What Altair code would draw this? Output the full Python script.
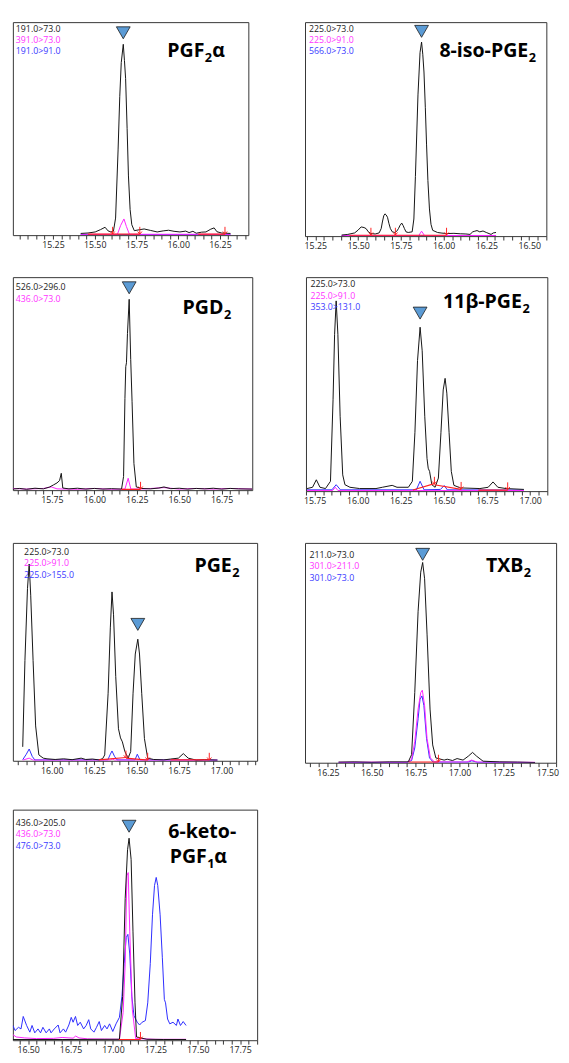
import math
import altair as alt
import pandas as pd

FONT = "Open Sans"
BLACK = "#111111"
MAGENTA = "#ff22ff"
BLUE = "#2a2aff"
RED = "#ff2020"
TRI_FILL = "#5b9bd5"
LEGEND_COLORS = ["#222222", "#ff33ff", "#3a3aff"]
ARROW = "M0,-1L0,1M-0.6,0.3L0,1L0.6,0.3"

# ---------------- data: (retention time [min], relative intensity [%]) ----------------
# Panel 1  PGF2a
P1_BLACK = [(15.416,0.8),(15.46,1.0),(15.503,1.5),(15.535,2.6),(15.562,3.7),(15.58,2.0),(15.597,1.5),(15.612,1.8),
            (15.625,8),(15.640,40),(15.650,65),(15.659,81),(15.671,89.6),(15.678,82),(15.685,73.6),(15.694,50),
            (15.702,27.8),(15.712,12),(15.722,4.9),(15.737,2.1),(15.765,2.5),(15.796,2.9),(15.835,2.2),(15.874,1.5),
            (15.91,2.0),(15.942,2.3),(15.975,1.8),(16.010,1.5),(16.045,1.9),(16.065,1.2),(16.088,1.8),(16.108,0.9),
            (16.14,1.4),(16.166,1.5),(16.195,2.8),(16.215,3.4),(16.232,1.6),(16.26,1.0),(16.313,0.8)]
P1_MAGENTA = [(15.416,0.4),(15.636,0.4),(15.655,4.5),(15.675,7.6),(15.69,4),(15.708,0.4),(16.313,0.4)]
P1_BLUE = [(15.416,0.25),(16.313,0.25)]
P1_RED = [[(15.46,0.5),(15.607,0.5)],[(15.607,0.5),(15.77,0.5)],[(16.12,0.5),(16.28,0.5)]]
P1_ARROWS = [(15.607,2.2),(15.77,2.2),(16.28,2.2)]
P1_PEAK = (15.671,95)
P1_LEGEND = ["191.0>73.0","391.0>73.0","191.0>91.0"]

# Panel 2  8-iso-PGE2
P2_BLACK = [(15.404,0.5),(15.44,0.8),(15.48,1.5),(15.50,2.8),(15.518,4.3),(15.535,4.0),(15.547,3.5),(15.56,2.0),
            (15.575,1.2),(15.60,1.0),(15.623,1.5),(15.635,3.5),(15.642,6.6),(15.65,9.5),(15.657,10.4),(15.664,9.9),
            (15.672,8.8),(15.68,6.0),(15.689,3.5),(15.70,2.0),(15.714,1.7),(15.725,2.2),(15.736,3.5),(15.745,5.0),
            (15.755,6.1),(15.763,5.0),(15.771,3.5),(15.78,2.0),(15.793,1.7),(15.816,2.0),(15.826,8.0),(15.835,27.9),
            (15.850,66),(15.862,85.8),(15.871,90.7),(15.878,85),(15.885,76.7),(15.893,60),(15.900,43),(15.908,26),
            (15.917,12.7),(15.926,5.5),(15.936,2.7),(15.964,1.7),(15.99,1.4),(16.021,1.2),(16.06,1.3),(16.097,1.1),
            (16.13,1.0),(16.154,0.8),(16.17,2.0),(16.182,2.3),(16.195,2.6),(16.211,2.0),(16.23,2.4),(16.249,1.7),
            (16.277,0.8),(16.29,1.5),(16.306,1.7)]
P2_MAGENTA = [(15.404,0.3),(15.855,0.3),(15.871,2.3),(15.888,0.3),(16.306,0.3)]
P2_BLUE = [(15.404,0.2),(16.306,0.2)]
P2_RED = [[(15.45,0.4),(15.575,0.4)],[(15.575,0.4),(15.718,0.4)],[(15.718,0.4),(16.017,0.4)]]
P2_ARROWS = [(15.575,2.2),(15.718,2.2),(16.017,2.2)]
P2_PEAK = (15.871,95.7)
P2_LEGEND = ["225.0>73.0","225.0>91.0","566.0>73.0"]

# Panel 3  PGD2
P3_BLACK = [(15.52,0.5),(15.56,0.8),(15.60,0.4),(15.65,0.9),(15.70,0.6),(15.737,1.5),(15.76,2.5),(15.78,3.4),
            (15.795,4.5),(15.805,7.9),(15.814,1.0),(15.85,0.6),(15.90,0.9),(15.95,0.5),(16.00,0.8),(16.05,0.5),
            (16.10,0.7),(16.16,0.5),(16.172,6.4),(16.18,43),(16.185,58),(16.189,59.8),(16.195,73.6),(16.205,89.6),
            (16.214,61.4),(16.222,41.5),(16.233,12.5),(16.247,1.5),(16.28,0.8),(16.33,0.6),(16.38,1.0),(16.41,1.5),
            (16.45,0.7),(16.50,0.9),(16.55,0.5),(16.60,0.8),(16.65,0.6),(16.70,0.9),(16.75,0.5),(16.80,0.8),
            (16.85,0.6),(16.93,0.5)]
P3_MAGENTA = [(15.52,0.8),(15.60,0.5),(15.70,0.8),(15.747,1.5),(15.78,0.6),(15.90,0.4),(16.00,0.8),(16.10,0.4),
              (16.18,0.5),(16.199,5.6),(16.215,0.5),(16.30,0.6),(16.41,1.2),(16.50,0.5),(16.60,0.8),(16.70,0.5),
              (16.80,0.8),(16.93,0.5)]
P3_RED = [[(16.16,0.4),(16.272,0.4)]]
P3_ARROWS = [(16.272,2.2)]
P3_PEAK = (16.205,95)
P3_LEGEND = ["526.0>296.0","436.0>73.0"]

# Panel 4  11b-PGE2
P4_BLACK = [(15.706,1.2),(15.738,1.8),(15.76,5.3),(15.781,1.8),(15.813,1.2),(15.842,4.6),(15.857,42.7),(15.866,73.3),
            (15.875,88.9),(15.885,73.3),(15.898,35),(15.913,7.6),(15.926,3),(15.955,1.8),(16.011,1.2),(16.106,1.2),
            (16.143,1.8),(16.2,2.7),(16.228,1.8),(16.294,1.8),(16.317,4.6),(16.332,27.5),(16.347,61),(16.362,76.6),
            (16.374,65.6),(16.389,35),(16.402,15.3),(16.409,10.7),(16.417,9.2),(16.430,3),(16.449,1.8),(16.468,6.1),
            (16.483,27.5),(16.496,47.3),(16.507,52.7),(16.517,45.8),(16.530,27.5),(16.543,9.2),(16.558,2.7),
            (16.596,1.5),(16.709,1.2),(16.757,1.8),(16.785,4.3),(16.813,1.8),(16.86,1.2),(16.964,0.8)]
P4_MAGENTA = [(15.706,0.3),(15.855,0.3),(15.87,1.8),(15.885,0.3),(16.964,0.3)]
P4_BLUE = [(15.706,0.6),(15.85,0.6),(15.875,3),(15.90,0.6),(16.34,0.6),(16.362,4.6),(16.385,0.6),(16.48,0.8),
           (16.502,2.6),(16.52,0.6),(16.964,0.5)]
P4_RED = [[(16.32,0.5),(16.445,3.5)],[(16.445,3.0),(16.60,0.8)],[(16.70,0.5),(16.87,0.5)]]
P4_ARROWS = [(16.445,5.0),(16.60,2.6),(16.87,2.4)]
P4_PEAK = (16.362,83.2)
P4_LEGEND = ["225.0>73.0","225.0>91.0","353.0>131.0"]

# Panel 5  PGE2
P5_BLACK = [(15.829,6.4),(15.842,46),(15.857,79),(15.867,90.3),(15.876,76),(15.89,46),(15.905,16),(15.924,2.7),
            (15.95,1.2),(15.972,0.9),(16.02,0.6),(16.07,0.9),(16.12,0.5),(16.173,1.2),(16.20,0.6),(16.24,0.8),
            (16.278,0.4),(16.30,1.0),(16.312,2.7),(16.332,31),(16.345,61),(16.355,77.5),(16.364,67),(16.377,38.6),
            (16.393,14.7),(16.405,10.5),(16.416,8.7),(16.431,4.2),(16.45,1.2),(16.465,4.2),(16.479,31),(16.492,49),
            (16.507,55.8),(16.517,49),(16.53,31),(16.546,10.2),(16.565,1.2),(16.60,0.6),(16.66,0.4),(16.70,0.8),
            (16.746,1.2),(16.775,3.3),(16.804,1.2),(16.852,0.3),(16.90,0.5),(16.976,0.3)]
P5_MAGENTA = [(15.829,0.3),(15.867,1.2),(15.89,0.3),(16.345,0.3),(16.355,0.9),(16.37,0.3),(16.976,0.3)]
P5_BLUE = [(15.829,0.5),(15.85,3),(15.867,5.4),(15.885,2),(15.90,0.4),(16.33,0.4),(16.345,3),(16.355,4.5),
           (16.37,2),(16.385,0.4),(16.49,0.4),(16.504,3),(16.52,0.4),(16.976,0.3)]
P5_RED = [[(16.278,0.4),(16.437,1.5)],[(16.437,1.2),(16.565,0.3)],[(16.70,0.4),(16.928,0.4)]]
P5_ARROWS = [(16.437,3.0),(16.565,2.0),(16.928,2.0)]
P5_PEAK = (16.507,62.6)
P5_LEGEND = ["225.0>73.0","225.0>91.0","225.0>155.0"]

# Panel 6  TXB2
P6_BLACK = [(16.311,0.3),(16.40,0.4),(16.50,0.2),(16.60,0.4),(16.708,0.4),(16.727,3.7),(16.745,31.9),(16.764,68.9),
            (16.779,86.7),(16.79,91.1),(16.801,83.7),(16.815,58.5),(16.832,24.4),(16.847,8.1),(16.865,2.2),
            (16.912,1.2),(16.93,1.6),(16.96,1.0),(16.986,1.9),(17.02,1.2),(17.05,3),(17.074,4.7),(17.097,3),
            (17.134,0.7),(17.226,0.4),(17.33,0.3),(17.43,0.1)]
P6_MAGENTA = [(16.311,0.2),(16.50,0.3),(16.70,0.2),(16.727,1.5),(16.745,9.6),(16.764,24.4),(16.779,31.9),
              (16.788,33),(16.801,26),(16.815,11),(16.834,2.2),(16.857,0.4),(17.04,0.3),(17.069,1.2),(17.10,0.3),
              (17.43,0.2)]
P6_BLUE = [(16.311,0.1),(16.70,0.1),(16.727,1),(16.745,6.7),(16.764,20),(16.775,28.9),(16.786,30.4),(16.797,26),
           (16.812,11.1),(16.829,2.2),(16.85,0.3),(17.05,0.3),(17.07,0.9),(17.10,0.2),(17.43,0.1)]
P6_RED = [[(16.71,0.3),(16.88,0.3)]]
P6_ARROWS = [(16.88,2.0)]
P6_PEAK = (16.79,94.8)
P6_LEGEND = ["211.0>73.0","301.0>211.0","301.0>73.0"]

# Panel 7  6-keto-PGF1a
P7_BLACK = [(16.41,0.3),(16.70,0.3),(17.038,0.4),(17.057,19),(17.072,61.4),(17.086,82.6),(17.095,87.6),
            (17.107,78.4),(17.118,47.3),(17.13,16.2),(17.139,1.4),(17.20,0.4),(17.30,0.3),(17.431,0.3)]
P7_MAGENTA = [(16.41,2.4),(16.43,1.4),(16.48,1.0),(16.55,0.7),(16.65,0.8),(16.70,1.2),(16.765,0.9),(16.78,1.8),
              (16.80,1.0),(16.85,0.6),(16.95,0.5),(17.038,0.4),(17.06,12),(17.072,33),(17.082,71.3),(17.09,72.7),
              (17.099,47.3),(17.114,13.4),(17.134,0.7),(17.25,0.4),(17.431,0.4)]
P7_BLUE = [(16.41,6.4),(16.423,4.2),(16.443,5.6),(16.458,4.9),(16.471,10.3),(16.491,6.4),(16.51,3.5),(16.523,6.4),
           (16.539,3.2),(16.558,4.9),(16.573,3.2),(16.587,5.6),(16.606,3.2),(16.625,4.9),(16.635,3.2),(16.654,4.9),
           (16.677,6.6),(16.688,3.2),(16.708,4.9),(16.721,3.5),(16.74,6.6),(16.754,9.9),(16.765,7.8),(16.779,10.3),
           (16.792,6.4),(16.807,7.8),(16.827,4.9),(16.842,6.4),(16.857,8.9),(16.869,4.9),(16.888,3.5),(16.903,5.6),
           (16.919,8.1),(16.932,4.2),(16.951,6.4),(16.965,4.9),(16.98,7.1),(16.999,3.8),(17.018,7.1),(17.038,9.9),
           (17.053,19.1),(17.066,33.2),(17.078,44.5),(17.088,45.9),(17.099,37.4),(17.111,19.1),(17.124,10.6),
           (17.143,7.8),(17.157,6.6),(17.172,7.8),(17.191,8.5),(17.205,16.2),(17.22,33.2),(17.233,54.4),
           (17.245,67.1),(17.255,70.6),(17.264,67.1),(17.278,54.4),(17.291,36.0),(17.303,17.7),(17.31,16.2),
           (17.322,9.2),(17.335,7.1),(17.354,7.8),(17.374,6.4),(17.383,9.2),(17.398,6.4),(17.414,8.1),(17.431,6.4)]
P7_RED = [[(17.035,0.3),(17.162,0.3)]]
P7_ARROWS = [(17.162,2.0)]
P7_PEAK = (17.095,92.8)
P7_LEGEND = ["436.0>205.0","436.0>73.0","476.0>73.0"]

# ---------------- panel layout (styles / positions, px inside each box) ----------------
TS, SS = 20, 13   # title / subscript font sizes
LF, LS = 9, 11.5  # legend font size / line step
PANELS = {
    "p1": dict(domain=[15.01, 16.42], w=241, h=218, black=P1_BLACK, magenta=P1_MAGENTA, blue=P1_BLUE,
               red=P1_RED, arrows=P1_ARROWS, peak=P1_PEAK, legend=P1_LEGEND, lx=3, ly0=7,
               title=[("PGF", 196, 36, TS, "right"), ("2", 196.5, 41, SS, "left"), ("α", 204, 36, TS, "left")]),
    "p2": dict(domain=[15.19, 16.60], w=247, h=219, black=P2_BLACK, magenta=P2_MAGENTA, blue=P2_BLUE,
               red=P2_RED, arrows=P2_ARROWS, peak=P2_PEAK, legend=P2_LEGEND, lx=4, ly0=7,
               title=[("8-iso-PGE", 228.5, 36, TS, "right"), ("2", 229, 41, SS, "left")]),
    "p3": dict(domain=[15.52, 16.93], w=245, h=218, black=P3_BLACK, magenta=P3_MAGENTA, blue=None,
               red=P3_RED, arrows=P3_ARROWS, peak=P3_PEAK, legend=P3_LEGEND, lx=3, ly0=10.5,
               title=[("PGD", 215.5, 37.5, TS, "right"), ("2", 216, 42.5, SS, "left")]),
    "p4": dict(domain=[15.70, 17.10], w=247, h=219, black=P4_BLACK, magenta=P4_MAGENTA, blue=P4_BLUE,
               red=P4_RED, arrows=P4_ARROWS, peak=P4_PEAK, legend=P4_LEGEND, lx=4.5, ly0=7.5,
               title=[("11β-PGE", 221, 32, TS, "right"), ("2", 221.5, 37, SS, "left")]),
    "p5": dict(domain=[15.771, 17.21], w=250, h=223, black=P5_BLACK, magenta=P5_MAGENTA, blue=P5_BLUE,
               red=P5_RED, arrows=P5_ARROWS, peak=P5_PEAK, legend=P5_LEGEND, lx=11.5, ly0=9.5,
               title=[("PGE", 224, 29.5, TS, "right"), ("2", 224.5, 34.5, SS, "left")]),
    "p6": dict(domain=[16.12, 17.55], w=257, h=225, black=P6_BLACK, magenta=P6_MAGENTA, blue=P6_BLUE,
               red=P6_RED, arrows=P6_ARROWS, peak=P6_PEAK, legend=P6_LEGEND, lx=4.5, ly0=12.5,
               title=[("TXB", 223.5, 29.5, TS, "right"), ("2", 224, 34.5, SS, "left")]),
    "p7": dict(domain=[16.41, 17.85], w=250, h=236, black=P7_BLACK, magenta=P7_MAGENTA, blue=P7_BLUE,
               red=P7_RED, arrows=P7_ARROWS, peak=P7_PEAK, legend=P7_LEGEND, lx=3, ly0=14,
               title=[("6-keto-", 159, 29.5, TS, "left"), ("PGF", 198.5, 54.5, TS, "right"),
                      ("1", 199, 59.5, SS, "left"), ("α", 206, 54.5, TS, "left")]),
}

DUMMY = pd.DataFrame({"k": [0]})
TICK_STEP = 0.05


def tick_values(dom):
    k = math.ceil(dom[0] / TICK_STEP - 1e-9)
    vals = []
    while k * TICK_STEP <= dom[1] + 1e-9:
        vals.append(round(k * TICK_STEP, 2))
        k += 1
    return vals


def pts_df(points):
    return pd.DataFrame(points, columns=["t", "v"])


def make_panel(cfg):
    dom = cfg["domain"]
    axis = alt.Axis(values=tick_values(dom),
                    labelExpr="abs(datum.value*4 - round(datum.value*4)) < 0.001 ? format(datum.value, '.2f') : ''",
                    tickSize=4, tickColor="#333333", tickWidth=1, domain=False, grid=False,
                    labelFont=FONT, labelFontSize=9, labelColor="#222222", labelPadding=2,
                    labelFlush=False, labelOverlap=False, title=None)
    X = alt.X("t:Q", scale=alt.Scale(domain=dom, nice=False, zero=False), axis=axis)
    Y = alt.Y("v:Q", scale=alt.Scale(domain=[0, 100], nice=False, zero=False), axis=None)
    layers = []
    for key, color in (("blue", BLUE), ("magenta", MAGENTA), ("black", BLACK)):
        pts = cfg[key]
        if pts:
            layers.append(alt.Chart(pts_df(pts)).mark_line(color=color, strokeWidth=1, clip=True)
                          .encode(x=X, y=Y))
    red_rows = [{"t": t, "v": v, "seg": i} for i, seg in enumerate(cfg["red"]) for (t, v) in seg]
    layers.append(alt.Chart(pd.DataFrame(red_rows)).mark_line(color=RED, strokeWidth=1.2, clip=True)
                  .encode(x=X, y=Y, detail="seg:N"))
    layers.append(alt.Chart(pts_df(cfg["arrows"])).mark_point(shape=ARROW, size=55, stroke=RED, filled=False,
                                                               strokeWidth=1, opacity=1)
                  .encode(x=X, y=Y))
    layers.append(alt.Chart(pts_df([cfg["peak"]])).mark_point(shape="triangle-down", size=200, filled=True,
                                                               fill=TRI_FILL, stroke="#1a1a1a",
                                                               strokeWidth=0.8, opacity=1)
                  .encode(x=X, y=Y))
    for i, txt in enumerate(cfg["legend"]):
        layers.append(alt.Chart(DUMMY).mark_text(align="left", baseline="middle", font=FONT, fontSize=LF,
                                                 color=LEGEND_COLORS[i])
                      .encode(x=alt.value(cfg["lx"]), y=alt.value(cfg["ly0"] + i * LS), text=alt.value(txt)))
    for txt, tx, ty, fs, al in cfg["title"]:
        layers.append(alt.Chart(DUMMY).mark_text(align=al, baseline="alphabetic", font=FONT, fontSize=fs,
                                                 fontWeight="bold", color="#000000")
                      .encode(x=alt.value(tx), y=alt.value(ty), text=alt.value(txt)))
    return alt.layer(*layers).properties(width=cfg["w"], height=cfg["h"])


p = {k: make_panel(v) for k, v in PANELS.items()}

row1 = alt.hconcat(p["p1"], p["p2"], spacing=58, bounds="flush")
row2 = alt.hconcat(p["p3"], p["p4"], spacing=55, bounds="flush")
row3 = alt.hconcat(p["p5"], p["p6"], spacing=49, bounds="flush")

chart = alt.vconcat(
    row1,
    alt.vconcat(row2, alt.vconcat(row3, p["p7"], spacing=31), spacing=36),
    spacing=25,
).properties(
    padding={"left": 4, "top": 1, "right": 2, "bottom": 2}
).configure_view(stroke="#333333", strokeWidth=1)

chart.save("out.html", embed_options={"renderer": "svg", "actions": False})
